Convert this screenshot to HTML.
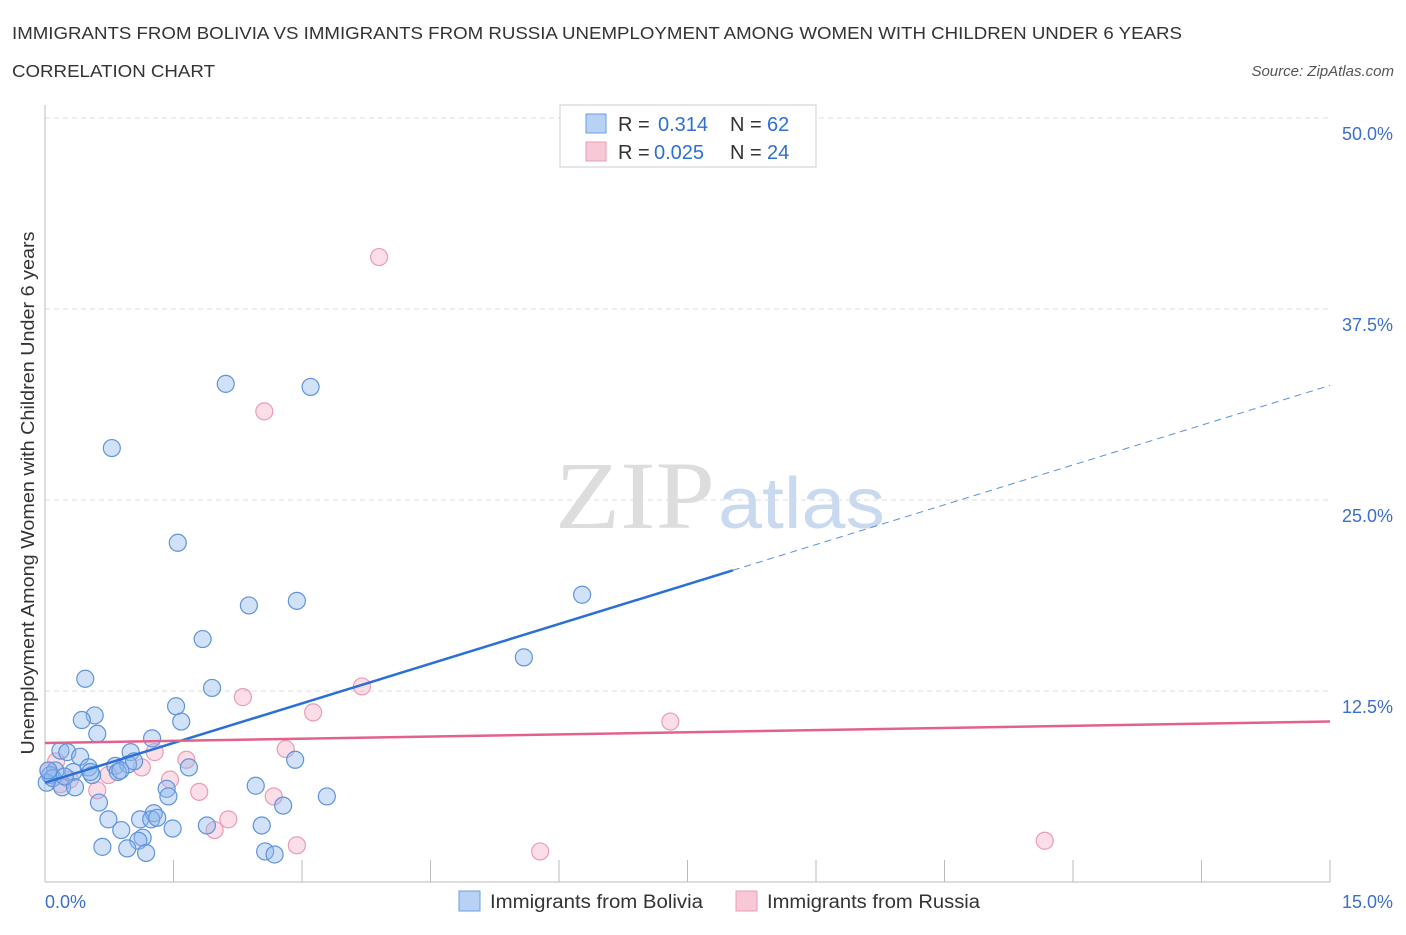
<!DOCTYPE html>
<html><head><meta charset="utf-8"><style>
body{margin:0;background:#fff;font-family:"Liberation Sans",sans-serif}
</style></head><body>
<svg id="chart" width="1406" height="930" xmlns="http://www.w3.org/2000/svg" style="font-family:'Liberation Sans',sans-serif">
<text x="12" y="39" font-size="17.5" fill="#333" textLength="1170" lengthAdjust="spacingAndGlyphs">IMMIGRANTS FROM BOLIVIA VS IMMIGRANTS FROM RUSSIA UNEMPLOYMENT AMONG WOMEN WITH CHILDREN UNDER 6 YEARS</text>
<text x="12" y="77" font-size="17.5" fill="#333" textLength="203" lengthAdjust="spacingAndGlyphs">CORRELATION CHART</text>
<text x="1394" y="76" font-size="15" fill="#555" font-style="italic" text-anchor="end">Source: ZipAtlas.com</text>
<g>
<text x="555" y="528" font-size="96" fill="#ddd" font-family="'Liberation Serif',serif" textLength="160" lengthAdjust="spacingAndGlyphs">ZIP</text>
<text x="718" y="528" font-size="72" fill="#c8d9f0" textLength="167" lengthAdjust="spacingAndGlyphs">atlas</text>
</g>
<g id="grid"></g>
<g id="axes"></g>
<g id="marks"></g>
<g>
<rect x="560" y="105" width="256" height="62" fill="#fff" stroke="#ccc"/>
<rect x="586" y="114" width="20" height="19" fill="#b8d2f5" stroke="#6a9ee0"/>
<rect x="586" y="142" width="20" height="19" fill="#f9c8d6" stroke="#ec9db5"/>
<g font-size="20" fill="#333">
<text x="618" y="131">R =</text><text x="658" y="131" fill="#2f6fd0">0.314</text><text x="730" y="131">N =</text><text x="767" y="131" fill="#2f6fd0">62</text>
<text x="618" y="159">R =</text><text x="654" y="159" fill="#2f6fd0">0.025</text><text x="730" y="159">N =</text><text x="767" y="159" fill="#2f6fd0">24</text>
</g>
</g>
<g>
<rect x="459" y="891" width="21" height="20" fill="#b8d2f5" stroke="#6a9ee0"/>
<text x="490" y="908" font-size="19" fill="#333" textLength="213" lengthAdjust="spacingAndGlyphs">Immigrants from Bolivia</text>
<rect x="736" y="891" width="21" height="20" fill="#f9c8d6" stroke="#ec9db5"/>
<text x="767" y="908" font-size="19" fill="#333" textLength="213" lengthAdjust="spacingAndGlyphs">Immigrants from Russia</text>
</g>
<text transform="translate(34,493) rotate(-90)" font-size="18" fill="#333" text-anchor="middle" textLength="523" lengthAdjust="spacingAndGlyphs">Unemployment Among Women with Children Under 6 years</text>
</svg>
<script>
const yTicks=[12.5,25,37.5,50];
const yTickLabels=["12.5%","25.0%","37.5%","50.0%"];
const xTickLabels=["0.0%","15.0%"];
const boliviaX=[2.11,3.10,0.78,1.55,2.38,2.94,1.84,6.27,5.59,0.47,1.95,1.53,0.58,0.43,1.59,0.61,1.25,0.18,0.26,1.00,0.41,2.92,0.82,0.97,0.51,1.04,1.68,0.12,0.33,0.06,0.02,0.09,0.55,0.85,0.88,0.20,0.35,1.42,2.46,1.44,0.63,3.29,1.27,2.78,0.74,1.11,1.24,1.31,0.89,1.49,1.89,2.53,1.14,1.09,0.67,0.96,1.18,2.57,2.68,0.23,0.53,0.04];
const boliviaY=[32.6,32.4,28.4,22.2,18.1,18.4,15.9,18.8,14.7,13.3,12.7,11.5,10.9,10.6,10.5,9.7,9.4,8.6,8.5,8.5,8.2,8.0,7.6,7.7,7.5,7.9,7.5,7.3,7.2,7.0,6.5,6.8,7.0,7.2,7.3,6.2,6.2,6.1,6.3,5.6,5.2,5.6,4.5,5.0,4.1,4.1,4.1,4.2,3.4,3.5,3.7,3.7,2.9,2.7,2.3,2.2,1.9,2.0,1.8,6.9,7.2,7.3];
const russiaX=[3.90,2.56,3.70,2.31,3.13,7.30,2.81,1.28,1.65,1.13,0.74,0.13,0.18,1.46,1.80,0.61,2.67,2.14,1.98,2.94,5.78,11.67,0.04,0.29];
const russiaY=[40.9,30.8,12.8,12.1,11.1,10.5,8.7,8.5,8.0,7.5,7.0,7.9,6.4,6.7,5.9,6.0,5.6,4.1,3.4,2.4,2.0,2.7,7.3,6.7];
const boliviaTrend=[6.5,20.4,32.5];
const boliviaTrendX=[0,8.03,15];
const russiaTrend=[9.1,10.5];
const russiaTrendX=[0,15];

const NS="http://www.w3.org/2000/svg";
const sx=v=>45+v/15*1285;
const sy=v=>882-v/50*764;
function mk(tag,attrs,parent){const e=document.createElementNS(NS,tag);for(const k in attrs)e.setAttribute(k,attrs[k]);document.getElementById(parent).appendChild(e);return e;}
yTicks.forEach((t,i)=>{
 const g=mk('line',{x1:45,x2:1330,y1:sy(t),y2:sy(t),stroke:'#ddd','stroke-dasharray':'5,4'},'grid');
 
 
 const l=mk('text',{x:1393,y:sy(t)+22,'font-size':18,fill:'#3b6fc9','text-anchor':'end'},'axes');
 l.textContent=yTickLabels[i];
 
 
});
const ax=mk('line',{x1:45,x2:1330,y1:882,y2:882,stroke:'#bbb'},'axes');


const ay=mk('line',{x1:45,x2:45,y1:105,y2:882,stroke:'#bbb'},'axes');


for(let i=1;i<=10;i++){
 const v=i*1.5;
 const t=mk('line',{x1:sx(v),x2:sx(v),y1:860,y2:882,stroke:'#bbb'},'axes');
 
 
}
const x0=mk('text',{x:45,y:908,'font-size':18,fill:'#3b6fc9'},'axes');x0.textContent=xTickLabels[0];


const x1=mk('text',{x:1393,y:908,'font-size':18,fill:'#3b6fc9','text-anchor':'end'},'axes');x1.textContent=xTickLabels[1];



russiaX.forEach((x,i)=>{
 const c=mk('circle',{cx:sx(x),cy:sy(russiaY[i]),r:8.5,fill:'rgba(246,172,194,0.4)',stroke:'#eb9bb3','stroke-width':1.2},'marks');
 
 
});
boliviaX.forEach((x,i)=>{
 const c=mk('circle',{cx:sx(x),cy:sy(boliviaY[i]),r:8.5,fill:'rgba(140,182,238,0.4)',stroke:'#5f93dc','stroke-width':1.2},'marks');
 
 
});
const bt=mk('line',{x1:sx(boliviaTrendX[0]),y1:sy(boliviaTrend[0]),x2:sx(boliviaTrendX[1]),y2:sy(boliviaTrend[1]),stroke:'#2a70d6','stroke-width':2.5},'marks');


const bd=mk('line',{x1:sx(boliviaTrendX[1]),y1:sy(boliviaTrend[1]),x2:sx(boliviaTrendX[2]),y2:sy(boliviaTrend[2]),stroke:'#5a90dd','stroke-width':1,'stroke-dasharray':'7,5'},'marks');


const rt=mk('line',{x1:sx(russiaTrendX[0]),y1:sy(russiaTrend[0]),x2:sx(russiaTrendX[1]),y2:sy(russiaTrend[1]),stroke:'#e2628c','stroke-width':2.5},'marks');


</script>
</body></html>
